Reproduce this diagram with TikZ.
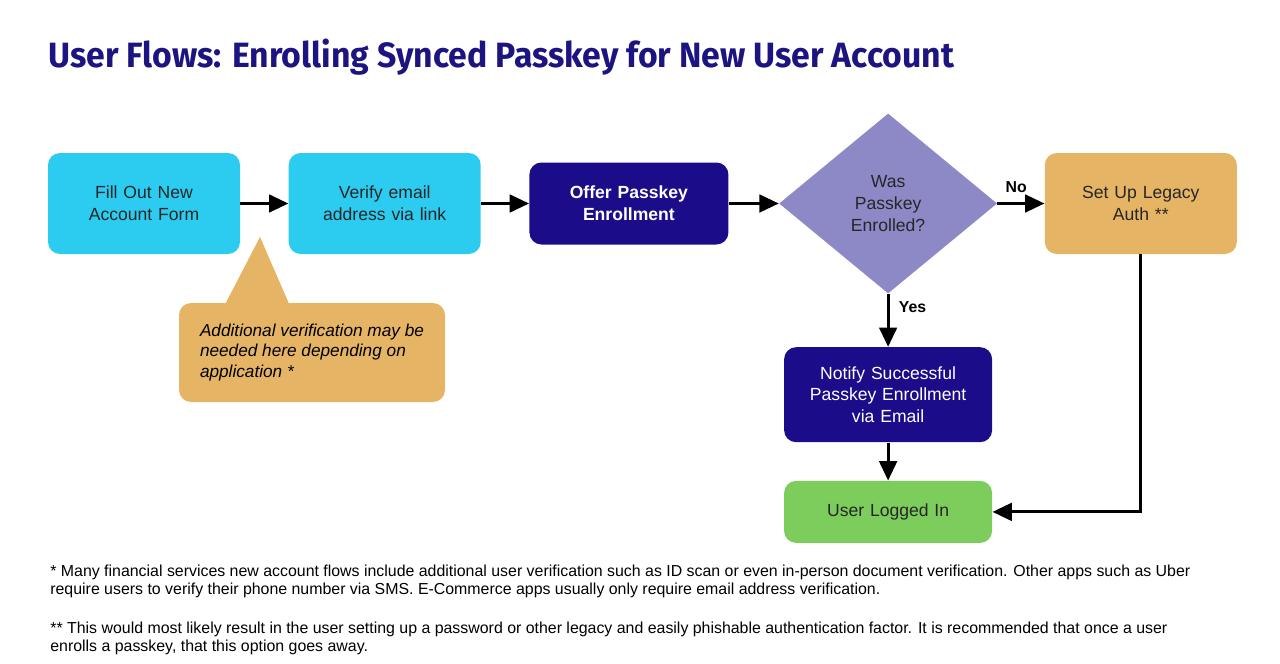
\documentclass[tikz,border=0pt]{standalone}
\usepackage{fontspec}
\setmainfont{Liberation Sans}
\newfontfamily\titlefont[FakeStretch=0.96]{Fira Sans}
\usepackage{tikz}
\usetikzlibrary{shapes.geometric, arrows.meta, positioning, calc}
\usepackage{xcolor}
\definecolor{titleblue}{HTML}{1C1480}
\definecolor{cyanbox}{HTML}{2CCBF0}
\definecolor{navybox}{HTML}{1B0D8A}
\definecolor{decisionbox}{HTML}{8D89C7}
\definecolor{orangebox}{HTML}{E6B465}
\definecolor{greenbox}{HTML}{7CCD5C}

\begin{document}
\begin{tikzpicture}[
    step box/.style = {rectangle, rounded corners=0.24cm, inner sep=2pt, align=center, font=\fontsize{10}{12.5}\selectfont, text width=3.6cm, minimum width=3.84cm, minimum height=2.02cm},
    input/.style = {step box, fill=cyanbox, text=black!85},
    action/.style = {step box, fill=navybox, text=white},
    legacy/.style = {step box, fill=orangebox, text=black!85},
    done/.style = {step box, fill=greenbox, text=black!85},
    decision/.style = {diamond, fill=decisionbox, text=black!85, align=center, inner sep=0pt, aspect=1.21, minimum width=4.36cm, minimum height=3.6cm, font=\fontsize{10}{12.5}\selectfont},
    note/.style = {rectangle, rounded corners=0.24cm, fill=orangebox, align=left, minimum width=5.32cm, minimum height=1.98cm, font=\fontsize{9.8}{11.9}\selectfont\itshape},
    arrow/.style = {draw=black, -{Triangle[length=11pt, width=10pt]}, line width=1.7pt},
    branch/.style = {font=\fontsize{9}{11}\selectfont\bfseries},
    footnote/.style = {anchor=west, align=left, inner sep=0pt, font=\fontsize{9.05}{10.24}\selectfont}
]
\useasboundingbox (0,0) rectangle (25.6,-13.28);

\node (title) [anchor=west, inner sep=0pt, text=titleblue, font=\titlefont\bfseries\fontsize{20}{24}\selectfont] at (0.96,-1.14) {User Flows: Enrolling Synced Passkey for New User Account};

\node (s_form) [input] at (2.88,-4.07) {Fill Out New\\Account Form};
\node (s_verify) [input, right=0.96cm of s_form] {Verify email\\address via link};
\node (s_offer) [action, right=0.96cm of s_verify, minimum width=3.98cm, minimum height=1.64cm, font=\fontsize{10}{12.5}\selectfont\bfseries] {Offer Passkey\\Enrollment};
\node (s_check) [decision, right=1.0cm of s_offer] {Was\\Passkey\\Enrolled?};
\node (s_legacy) [legacy, right=0.94cm of s_check] {Set Up Legacy\\Auth **};
\node (s_notify) [action, below=1.06cm of s_check, text width=4cm, minimum width=4.16cm, minimum height=1.9cm] {Notify Successful\\Passkey Enrollment\\via Email};
\node (s_login) [done, below=0.76cm of s_notify, text width=4cm, minimum width=4.16cm, minimum height=1.24cm] {User Logged In};

% callout under the first arrow
\node (s_note) [note] at (6.24,-7.05) {Additional verification may be\\needed here depending on\\application *};
\coordinate (note_tip) at (5.2,-4.74);
\fill[orangebox] ($(s_note.north west)+(0.92,-0.05)$) -- (note_tip) -- ($(s_note.north west)+(2.22,-0.05)$) -- cycle;

\draw [arrow] (s_form) -- (s_verify);
\draw [arrow] (s_verify) -- (s_offer);
\draw [arrow] (s_offer) -- (s_check);
\draw [arrow] (s_check) -- node[branch, above, pos=0.4, yshift=2pt]{No} (s_legacy);
\draw [arrow] (s_check) -- node[branch, right, pos=0.25, xshift=2pt]{Yes} (s_notify);
\draw [arrow] (s_notify) -- (s_login);
\draw [arrow] (s_legacy.south) |- (s_login.east);

\node (fn_one) [footnote] at (1.0,-11.62) {* Many financial services new account flows include additional user verification such as ID scan or even in-person document verification. Other apps such as Uber\\require users to verify their phone number via SMS. E-Commerce apps usually only require email address verification.};
\node (fn_two) [footnote] at (1.0,-12.76) {** This would most likely result in the user setting up a password or other legacy and easily phishable authentication factor. It is recommended that once a user\\enrolls a passkey, that this option goes away.};

\end{tikzpicture}
\end{document}
